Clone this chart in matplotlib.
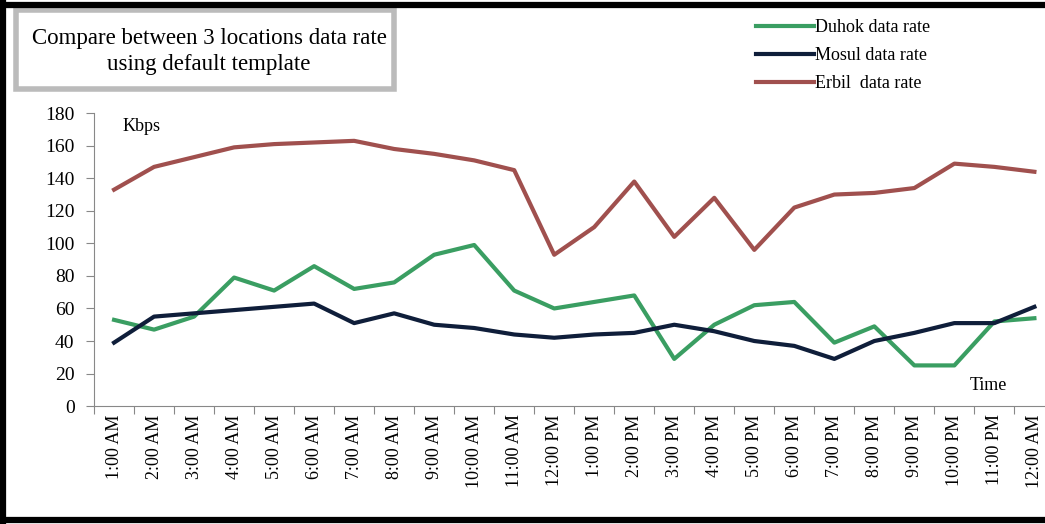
import matplotlib.pyplot as plt
from matplotlib.lines import Line2D
from matplotlib.patches import Rectangle

times = ['1:00 AM', '2:00 AM', '3:00 AM', '4:00 AM', '5:00 AM', '6:00 AM',
         '7:00 AM', '8:00 AM', '9:00 AM', '10:00 AM', '11:00 AM', '12:00 PM',
         '1:00 PM', '2:00 PM', '3:00 PM', '4:00 PM', '5:00 PM', '6:00 PM',
         '7:00 PM', '8:00 PM', '9:00 PM', '10:00 PM', '11:00 PM', '12:00 AM']
duhok = [53, 47, 55, 79, 71, 86, 72, 76, 93, 99, 71, 60,
         64, 68, 29, 50, 62, 64, 39, 49, 25, 25, 52, 54]
mosul = [39, 55, 57, 59, 61, 63, 51, 57, 50, 48, 44, 42,
         44, 45, 50, 46, 40, 37, 29, 40, 45, 51, 51, 61]
erbil = [133, 147, 153, 159, 161, 162, 163, 158, 155, 151, 145, 93,
         110, 138, 104, 128, 96, 122, 130, 131, 134, 149, 147, 144]

plt.rcParams['font.family'] = 'Liberation Serif'

fig = plt.figure(figsize=(10.45, 5.24), dpi=100)
ax = fig.add_axes([0.09, 0.225, 0.919, 0.559])

x = range(len(times))
ax.plot(x, duhok, color='#3a9e62', lw=3, label='Duhok data rate')
ax.plot(x, mosul, color='#0f1e3a', lw=3, label='Mosul data rate')
ax.plot(x, erbil, color='#a0504e', lw=3, label='Erbil  data rate')

ax.set_xlim(-0.5, len(times) - 0.5)
ax.set_ylim(0, 180)
ax.set_yticks(range(0, 181, 20))
ax.set_xticks([i - 0.5 for i in range(len(times) + 1)], minor=False)
ax.set_xticklabels([])
ax.set_xticks(list(x), minor=True)
ax.set_xticklabels(times, minor=True, rotation=90, fontsize=13)
ax.tick_params(axis='x', which='minor', length=0, pad=6)
ax.tick_params(axis='x', which='major', length=6, color='#888888')
ax.tick_params(axis='y', length=6, color='#888888', labelsize=14, pad=8)
for s in ['top', 'right']:
    ax.spines[s].set_visible(False)
for s in ['left', 'bottom']:
    ax.spines[s].set_color('#888888')

ax.text(0.03, 0.985, 'Kbps', transform=ax.transAxes, fontsize=13, va='top')
ax.text(0.912, 0.07, 'Time', transform=ax.transAxes, fontsize=13, va='center')

fig.legend(loc='upper left', bbox_to_anchor=(0.708, 0.995), frameon=False,
           fontsize=13, handlelength=3.2, handletextpad=0.05, labelspacing=0.62)

# title box
fig.patches.append(Rectangle((0.015, 0.83), 0.362, 0.15, transform=fig.transFigure,
                             fill=False, edgecolor='#bbbbbb', lw=4))
fig.text(0.2, 0.901, 'Compare between 3 locations data rate\nusing default template',
         ha='center', va='center', fontsize=16.5, linespacing=1.3)

# black frame
for xs, ys in [([0.003, 0.003], [0.0, 1.0]), ([0.0, 1.0], [0.99, 0.99]),
               ([0.0, 1.0], [0.008, 0.008])]:
    fig.lines.append(Line2D(xs, ys, transform=fig.transFigure, color='black', lw=4.5))

fig.savefig('out.png', dpi=100)
